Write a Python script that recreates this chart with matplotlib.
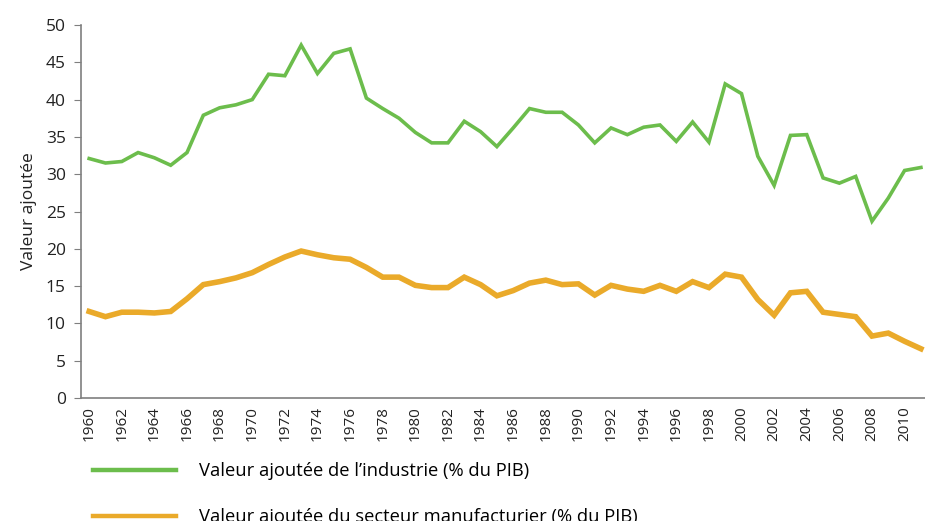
import matplotlib
matplotlib.use("Agg")
import matplotlib.pyplot as plt
from matplotlib.lines import Line2D

plt.rcParams['font.family'] = ['Open Sans', 'DejaVu Sans']

years = list(range(1960, 2012))

# Valeur ajoutée de l'industrie (% du PIB)
industrie = [32.1, 31.5, 31.7, 32.9, 32.2, 31.2, 32.9, 37.9, 38.9, 39.3,
             40.0, 43.4, 43.2, 47.3, 43.5, 46.2, 46.8, 40.2, 38.8, 37.5,
             35.6, 34.2, 34.2, 37.1, 35.7, 33.7, 36.2, 38.8, 38.3, 38.3,
             36.6, 34.2, 36.2, 35.3, 36.3, 36.6, 34.4, 37.0, 34.3, 42.1,
             40.8, 32.4, 28.5, 35.2, 35.3, 29.5, 28.8, 29.7, 23.7, 26.8,
             30.5, 30.9]

# Valeur ajoutée du secteur manufacturier (% du PIB)
manufacturier = [11.6, 10.9, 11.5, 11.5, 11.4, 11.6, 13.3, 15.2, 15.6, 16.1,
                 16.8, 17.9, 18.9, 19.7, 19.2, 18.8, 18.6, 17.5, 16.2, 16.2,
                 15.1, 14.8, 14.8, 16.2, 15.2, 13.7, 14.4, 15.4, 15.8, 15.2,
                 15.3, 13.8, 15.1, 14.6, 14.3, 15.1, 14.3, 15.6, 14.8, 16.6,
                 16.2, 13.2, 11.1, 14.1, 14.3, 11.5, 11.2, 10.9, 8.3, 8.7,
                 7.6, 6.6]

labels = ["Valeur ajoutée de l\u2019industrie (% du PIB)",
          "Valeur ajoutée du secteur manufacturier (% du PIB)"]

green = '#6cbd4c'
orange = '#eaaa2a'
grey = '#7f7f7f'

fig = plt.figure(figsize=(9.25, 5.21), dpi=100)
ax = fig.add_axes([81 / 925, 1 - 398 / 521, 1 - 81 / 925, (398 - 25) / 521])

ax.plot(years, industrie, color=green, lw=2.6, solid_joinstyle='miter')
ax.plot(years, manufacturier, color=orange, lw=4.0, solid_joinstyle='miter')

ax.set_xlim(1959.5, 2011.25)
ax.set_ylim(0, 50)
ax.set_yticks(range(0, 51, 5))
ax.set_xticks(range(1960, 2011, 2))
ax.set_xticklabels([str(y) for y in range(1960, 2011, 2)], rotation=90)

for s in ['top', 'right']:
    ax.spines[s].set_visible(False)
for s in ['left', 'bottom']:
    ax.spines[s].set_color(grey)
    ax.spines[s].set_linewidth(1.2)

ax.tick_params(axis='y', labelsize=12.5, length=5, pad=6, labelcolor='#222222', color=grey)
ax.tick_params(axis='x', labelsize=11, length=0, pad=6, labelcolor='#222222')

ax.set_ylabel("Valeur ajoutée", fontsize=12.5, color='#222222', labelpad=6)

# legende sous le graphique
handles = [Line2D([], [], color=green, lw=3.2), Line2D([], [], color=orange, lw=3.2)]
fig.legend(handles, labels, loc='upper left', bbox_to_anchor=(93 / 925, 1 - 462 / 521),
           frameon=False, fontsize=13.2, handlelength=4.5, handletextpad=1.3,
           labelspacing=1.55, borderaxespad=0, borderpad=0)

fig.savefig("out.png", dpi=100)
